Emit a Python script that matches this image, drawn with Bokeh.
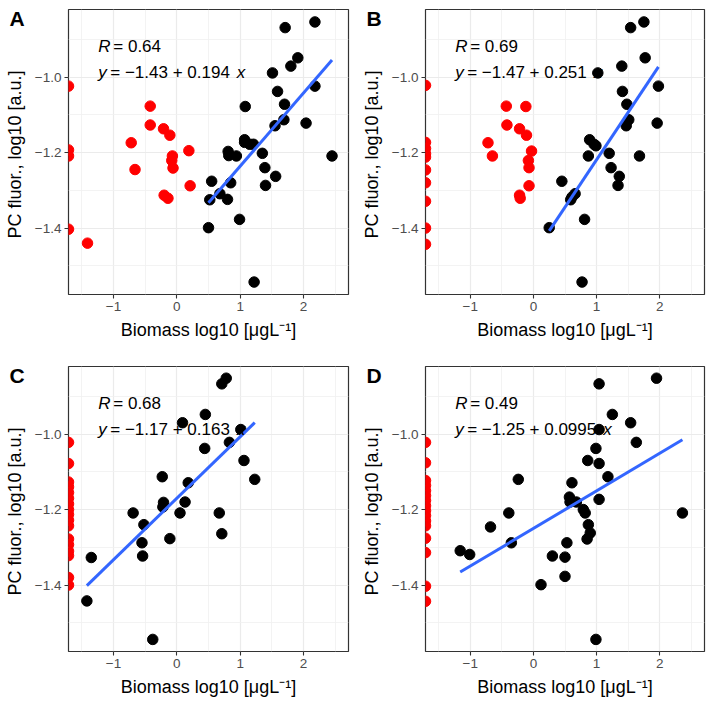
from bokeh.plotting import figure
from bokeh.layouts import gridplot
from bokeh.models import Range1d, FixedTicker, Label, Title
from bokeh.embed import file_html
from bokeh.resources import INLINE

# ---------------- data ----------------
X_EDGE = -1.71  # observations sitting on the lower x limit

x_tick_values = [-1, 0, 1, 2]
x_tick_labels = ["−1", "0", "1", "2"]
x_minor_values = [-1.5, -0.5, 0.5, 1.5, 2.5]
y_tick_values = [-1.4, -1.2, -1.0]
y_tick_labels = ["−1.4", "−1.2", "−1.0"]
y_minor_values = [-1.5, -1.3, -1.1, -0.9]

x_title = "Biomass log10 [μgL⁻¹]"
y_title = "PC fluor.,  log10 [a.u.]"

# Panel A
a_black_x = [2.18, 1.71, 1.91, 1.80, 1.51, 2.18, 1.59, 1.70, 1.08, 1.69, 2.04, 1.55, 1.07, 1.07,
             1.15, 1.21, 0.81, 0.82, 0.94, 1.35, 2.45, 1.39, 1.56, 0.55, 0.85, 1.40, 0.68, 0.52,
             0.80, 0.99, 0.50, 1.22]
a_black_y = [-0.854, -0.869, -0.949, -0.971, -0.989, -1.024, -1.038, -1.072, -1.078, -1.113, -1.122,
             -1.129, -1.166, -1.173, -1.178, -1.178, -1.197, -1.208, -1.209, -1.202, -1.209, -1.240,
             -1.263, -1.276, -1.280, -1.287, -1.309, -1.325, -1.324, -1.377, -1.399, -1.543]
a_red_x = [-0.42, -0.42, -0.72, -0.66, -1.41, -0.21, -0.11, -0.07, -0.08, -0.06, 0.19, 0.21, -0.20, -0.14]
a_red_y = [-1.077, -1.127, -1.174, -1.245, -1.440, -1.137, -1.154, -1.209, -1.221, -1.241, -1.195,
           -1.288, -1.313, -1.321]
a_edge_y = [-1.024, -1.193, -1.209, -1.403]
a_r = "0.64"
a_intercept, a_slope = -1.43, 0.194
a_eq = "= −1.43 + 0.194"

# Panel B
b_black_x = [1.75, 1.54, 1.77, 1.40, 1.02, 1.98, 1.41, 1.48, 1.51, 1.96, 1.47, 0.89, 0.96, 0.99,
             0.87, 1.20, 1.68, 1.23, 1.36, 0.45, 1.34, 0.66, 0.61, 0.59, 0.81, 0.25, 0.77]
b_black_y = [-0.854, -0.869, -0.949, -0.971, -0.989, -1.024, -1.038, -1.072, -1.113, -1.122, -1.129,
             -1.166, -1.178, -1.182, -1.209, -1.202, -1.209, -1.240, -1.263, -1.276, -1.287, -1.309,
             -1.318, -1.325, -1.377, -1.399, -1.543]
b_red_x = [-0.43, -0.42, -0.72, -0.65, -0.12, -0.22, -0.11, -0.03, -0.08, -0.07, -0.07, -0.22, -0.21]
b_red_y = [-1.077, -1.127, -1.174, -1.209, -1.078, -1.137, -1.154, -1.196, -1.221, -1.240, -1.288,
           -1.313, -1.321]
b_edge_y = [-1.022, -1.173, -1.189, -1.203, -1.212, -1.246, -1.280, -1.329, -1.400, -1.443]
b_r = "0.69"
b_intercept, b_slope = -1.47, 0.251
b_eq = "= −1.47 + 0.251"

# Panel C
c_black_x = [0.78, 0.71, 0.45, 0.09, 1.01, 0.83, 0.44, 1.06, -0.23, 1.23, 0.18, -0.21, 0.13, -0.22,
             -0.69, 0.05, 0.67, -0.52, -0.11, 0.71, -0.55, -0.54, -1.35, -1.42, -0.38]
c_black_y = [-0.852, -0.867, -0.948, -0.970, -0.988, -1.022, -1.038, -1.070, -1.113, -1.120, -1.129,
             -1.181, -1.180, -1.193, -1.209, -1.209, -1.209, -1.240, -1.277, -1.264, -1.288, -1.323,
             -1.327, -1.442, -1.544]
c_red_x = []
c_red_y = []
c_edge_y = [-1.022, -1.078, -1.127, -1.140, -1.155, -1.170, -1.185, -1.200, -1.213, -1.228, -1.243,
            -1.278, -1.293, -1.310, -1.322, -1.380, -1.400]
c_r = "0.68"
c_intercept, c_slope = -1.17, 0.163
c_eq = "= −1.17 + 0.163"

# Panel D
d_black_x = [1.95, 1.04, 1.25, 1.54, 1.04, 1.63, 0.99, 0.86, 1.04, -0.24, 1.18, 0.61, 0.57, 1.04,
             0.58, 0.68, 0.79, 0.82, -0.39, 2.36, -0.68, 0.87, 0.90, 0.85, 0.53, -0.35, -1.16, -1.01,
             0.30, 0.50, 0.50, 0.12, 0.99]
d_black_y = [-0.852, -0.867, -0.948, -0.970, -0.988, -1.022, -1.038, -1.070, -1.078, -1.120, -1.113,
             -1.129, -1.167, -1.173, -1.180, -1.180, -1.200, -1.209, -1.209, -1.209, -1.246, -1.240,
             -1.262, -1.278, -1.288, -1.288, -1.309, -1.319, -1.323, -1.326, -1.377, -1.399, -1.544]
d_red_x = []
d_red_y = []
d_edge_y = [-1.022, -1.076, -1.123, -1.136, -1.150, -1.163, -1.176, -1.190, -1.203, -1.216, -1.230,
            -1.243, -1.276, -1.314, -1.403, -1.443]
d_r = "0.49"
d_intercept, d_slope = -1.25, 0.0995
d_eq = "= −1.25 + 0.0995"

X_RANGE = (X_EDGE, 2.71)
Y_RANGE = (-1.576, -0.821)

FONT = "Liberation Sans"
ANN_SIZE = 17

# Arial / Liberation Sans advance widths (em) for the annotation characters
ADV = {"=": 0.584, " ": 0.278, "−": 0.584, "+": 0.584, ".": 0.278}


def text_width(s, size):
    return sum(ADV.get(ch, 0.556) for ch in s) * size


def make_panel(tag, bx, by, rx, ry, edge_y, r_txt, icpt, slope, eq_txt, borders):
    left, right, top, bottom = borders
    p = figure(width=357, height=357, output_backend="svg", toolbar_location=None,
               x_range=Range1d(*X_RANGE), y_range=Range1d(*Y_RANGE),
               min_border_left=left, min_border_right=right,
               min_border_top=top, min_border_bottom=bottom)
    p.background_fill_color = "white"
    p.border_fill_color = "white"
    p.outline_line_color = "#333333"
    p.outline_line_width = 1.2

    # panel tag as a title pulled down into the top-left margin
    p.title = Title(text=tag, align="left", offset=-59, standoff=-40, vertical_align="bottom",
                    text_font=FONT, text_font_size="21px", text_font_style="bold",
                    text_color="black")

    # grids
    p.xgrid.ticker = FixedTicker(ticks=x_tick_values, minor_ticks=x_minor_values)
    p.ygrid.ticker = FixedTicker(ticks=y_tick_values, minor_ticks=y_minor_values)
    for g in (p.xgrid, p.ygrid):
        g.grid_line_color = "#EBEBEB"
        g.grid_line_width = 1.2
        g.minor_grid_line_color = "#F0F0F0"
        g.minor_grid_line_width = 0.8

    # axes
    p.xaxis.ticker = FixedTicker(ticks=x_tick_values)
    p.yaxis.ticker = FixedTicker(ticks=y_tick_values)
    p.xaxis.major_label_overrides = {v: s for v, s in zip(x_tick_values, x_tick_labels)}
    p.yaxis.major_label_overrides = {v: s for v, s in zip(y_tick_values, y_tick_labels)}
    p.xaxis.axis_label = x_title
    p.yaxis.axis_label = y_title
    for ax in (p.xaxis, p.yaxis):
        ax.axis_line_color = None
        ax.major_tick_line_color = "#333333"
        ax.major_tick_line_width = 1.1
        ax.major_tick_out = 4
        ax.major_tick_in = 0
        ax.minor_tick_line_color = None
        ax.major_label_text_font = FONT
        ax.major_label_text_font_size = "13.5px"
        ax.major_label_text_color = "#4D4D4D"
        ax.major_label_standoff = 3
        ax.axis_label_text_font = FONT
        ax.axis_label_text_font_size = "18px"
        ax.axis_label_text_font_style = "normal"
        ax.axis_label_text_color = "black"
    p.xaxis.axis_label_standoff = 6
    p.yaxis.axis_label_standoff = 7

    # points
    if rx:
        p.scatter(rx, ry, size=10.5, fill_color="#FF0000", line_color="#FF0000")
    p.scatter([X_EDGE] * len(edge_y), edge_y, size=10.5, fill_color="#FF0000", line_color="#FF0000")
    p.scatter(bx, by, size=10.5, fill_color="black", line_color="black")

    # regression line
    lx = [min(bx), max(bx)]
    ly = [icpt + slope * v for v in lx]
    p.line(lx, ly, line_color="#3366FF", line_width=3)

    # annotations (R and regression equation)
    tx, ty_r, ty_eq = -1.24, -0.918, -0.989
    common = dict(text_font=FONT, text_font_size=f"{ANN_SIZE}px", text_color="black",
                  text_baseline="middle")
    p.add_layout(Label(x=tx, y=ty_r, text="R", text_font_style="italic", **common))
    p.add_layout(Label(x=tx, y=ty_r, x_offset=15, text="= " + r_txt, **common))
    p.add_layout(Label(x=tx, y=ty_eq, text="y", text_font_style="italic", **common))
    p.add_layout(Label(x=tx, y=ty_eq, x_offset=12, text=eq_txt, **common))
    p.add_layout(Label(x=tx, y=ty_eq, x_offset=12 + text_width(eq_txt, ANN_SIZE) + 7,
                       text="x", text_font_style="italic", **common))
    return p


pA = make_panel("A", a_black_x, a_black_y, a_red_x, a_red_y, a_edge_y, a_r, a_intercept, a_slope, a_eq,
                (68, 9, 9, 63))
pB = make_panel("B", b_black_x, b_black_y, b_red_x, b_red_y, b_edge_y, b_r, b_intercept, b_slope, b_eq,
                (68, 10, 9, 63))
pC = make_panel("C", c_black_x, c_black_y, c_red_x, c_red_y, c_edge_y, c_r, c_intercept, c_slope, c_eq,
                (68, 9, 9, 63))
pD = make_panel("D", d_black_x, d_black_y, d_red_x, d_red_y, d_edge_y, d_r, d_intercept, d_slope, d_eq,
                (68, 10, 9, 63))

grid = gridplot([[pA, pB], [pC, pD]], toolbar_location=None)

open("out.html", "w").write(file_html(grid, INLINE))
